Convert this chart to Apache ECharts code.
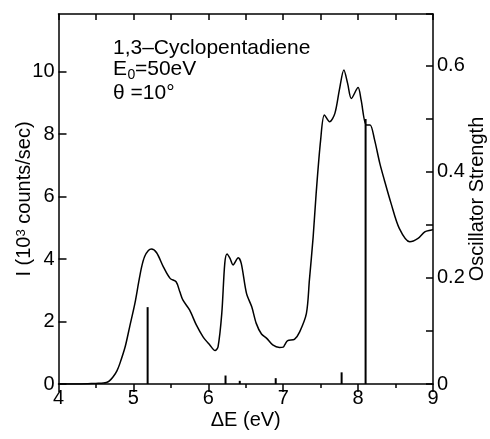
<!DOCTYPE html>
<html>
<head>
<meta charset="utf-8">
<script src="https://cdn.jsdelivr.net/npm/echarts@6/dist/echarts.min.js"></script>
<style>html,body{margin:0;padding:0;background:#fff}#c{width:490px;height:439px}</style>
</head>
<body>
<div id="c"></div>
<script>
// Energy-loss spectrum: [ΔE (eV), I (10^3 counts/sec)]
const spectrum = [
  [4.0,0],[4.3,0],[4.5,0.02],[4.6,0.03],[4.64,0.05],[4.68,0.1],[4.73,0.23],[4.78,0.42],
  [4.82,0.66],[4.89,1.19],[4.95,1.83],[5.02,2.58],[5.07,3.25],[5.11,3.75],[5.15,4.08],[5.20,4.27],
  [5.24,4.32],[5.31,4.20],[5.40,3.75],[5.49,3.38],[5.57,3.27],[5.62,2.95],[5.66,2.69],
  [5.75,2.37],[5.84,1.89],[5.93,1.51],[6.02,1.25],[6.09,1.07],[6.13,1.19],[6.18,2.26],
  [6.22,3.86],[6.25,4.16],[6.29,4.02],[6.33,3.81],[6.40,4.04],[6.44,3.86],[6.51,2.90],
  [6.58,2.47],[6.64,1.94],[6.71,1.60],[6.78,1.46],[6.86,1.25],[6.95,1.17],[7.00,1.18],
  [7.02,1.25],[7.06,1.39],[7.15,1.43],[7.22,1.67],[7.31,2.26],[7.35,3.33],[7.40,4.71],
  [7.44,6.10],[7.50,7.81],[7.55,8.61],[7.62,8.39],[7.69,8.66],[7.75,9.41],[7.81,10.05],
  [7.86,9.62],[7.91,9.14],[8.00,9.49],[8.04,9.09],[8.11,8.29],[8.16,8.29],[8.22,7.81],
  [8.29,7.06],[8.35,6.53],[8.44,5.78],[8.55,4.98],[8.69,4.55],[8.80,4.66],[8.89,4.87],
  [8.98,4.93],[9.0,4.95]
];
// Oscillator strengths: [ΔE (eV), f]
const oscillator = [[5.19,0.145],[6.23,0.016],[6.42,0.006],[6.90,0.011],[7.78,0.022],[8.10,0.50]];

const textLines = ['1,3–Cyclopentadiene', 'E', '0', '=50eV', 'θ =10°'];
const xName = 'ΔE (eV)';
const yLeftName = 'I (10{sup|3} counts/sec)';
const yRightName = 'Oscillator Strength';

const FONT = '"Liberation Sans", Arial, Helvetica, sans-serif';
const chart = echarts.init(document.getElementById('c'), null, {renderer:'canvas'});
const axisLine = {show:true, onZero:false, lineStyle:{color:'#000', width:1.5}};
chart.setOption({
  animation:false,
  grid:{left:58.5, right:57, top:14, bottom:55, containLabel:false, outerBoundsMode:'none'},
  xAxis:[{
    type:'value', min:4, max:9, interval:1, position:'bottom',
    axisLine, splitLine:{show:false},
    axisTick:{show:true, inside:false, length:8, lineStyle:{color:'#000', width:1.5}},
    minorTick:{show:true, splitNumber:2, length:4, lineStyle:{color:'#000', width:1.5}},
    axisLabel:{color:'#000', fontSize:20, fontFamily:FONT, margin:4},
    name:xName, nameLocation:'middle', nameGap:26, nameMoveOverlap:false,
    nameTextStyle:{color:'#000', fontSize:20, fontFamily:FONT, verticalAlign:'top'}
  },{
    type:'value', min:4, max:9, interval:0.5, position:'top',
    axisLine, splitLine:{show:false},
    axisTick:{show:true, inside:true, length:6, lineStyle:{color:'#000', width:1.5}},
    axisLabel:{show:false}
  }],
  yAxis:[{
    type:'value', min:0, max:11.84, interval:2, position:'left',
    axisLine, splitLine:{show:false},
    axisTick:{show:true, inside:true, length:8, lineStyle:{color:'#000', width:1.5}},
    axisLabel:{color:'#000', fontSize:20, fontFamily:FONT, margin:4, showMaxLabel:false},
    name:yLeftName, nameLocation:'middle', nameGap:24, nameRotate:90, nameMoveOverlap:false,
    nameTextStyle:{color:'#000', fontSize:20, fontFamily:FONT,
      rich:{sup:{fontSize:13, fontFamily:FONT, color:'#000', verticalAlign:'top', lineHeight:10}}}
  },{
    type:'value', min:0, max:0.698, interval:0.2, position:'right',
    axisLine, splitLine:{show:false},
    axisTick:{show:true, inside:true, length:7, lineStyle:{color:'#000', width:1.5}},
    minorTick:{show:true, splitNumber:2, length:7, lineStyle:{color:'#000', width:1.5}},
    axisLabel:{color:'#000', fontSize:20, fontFamily:FONT, margin:4, showMaxLabel:false,
      formatter:v=> v===0 ? '0' : v.toFixed(1)},
    name:yRightName, nameLocation:'middle', nameGap:34, nameRotate:90, nameMoveOverlap:false,
    nameTextStyle:{color:'#000', fontSize:20, fontFamily:FONT, verticalAlign:'top'}
  }],
  series:[{
    type:'line', data:spectrum, xAxisIndex:0, yAxisIndex:0, smooth:0.3,
    symbol:'none', lineStyle:{color:'#000', width:1.5}
  },{
    type:'bar', data:oscillator, xAxisIndex:0, yAxisIndex:1, barWidth:2,
    itemStyle:{color:'#000'}
  }],
  graphic:[
    {type:'text', x:113, y:48.5, style:{text:textLines[0], font:'21px '+FONT, fill:'#000', verticalAlign:'middle'}},
    {type:'text', x:113, y:69.5, style:{text:textLines[1], font:'21px '+FONT, fill:'#000', verticalAlign:'middle'}},
    {type:'text', x:127.5, y:75, style:{text:textLines[2], font:'14px '+FONT, fill:'#000', verticalAlign:'middle'}},
    {type:'text', x:135, y:69.5, style:{text:textLines[3], font:'21px '+FONT, fill:'#000', verticalAlign:'middle'}},
    {type:'text', x:113, y:93.5, style:{text:textLines[4], font:'21px '+FONT, fill:'#000', verticalAlign:'middle'}}
  ]
});
</script>
</body>
</html>
